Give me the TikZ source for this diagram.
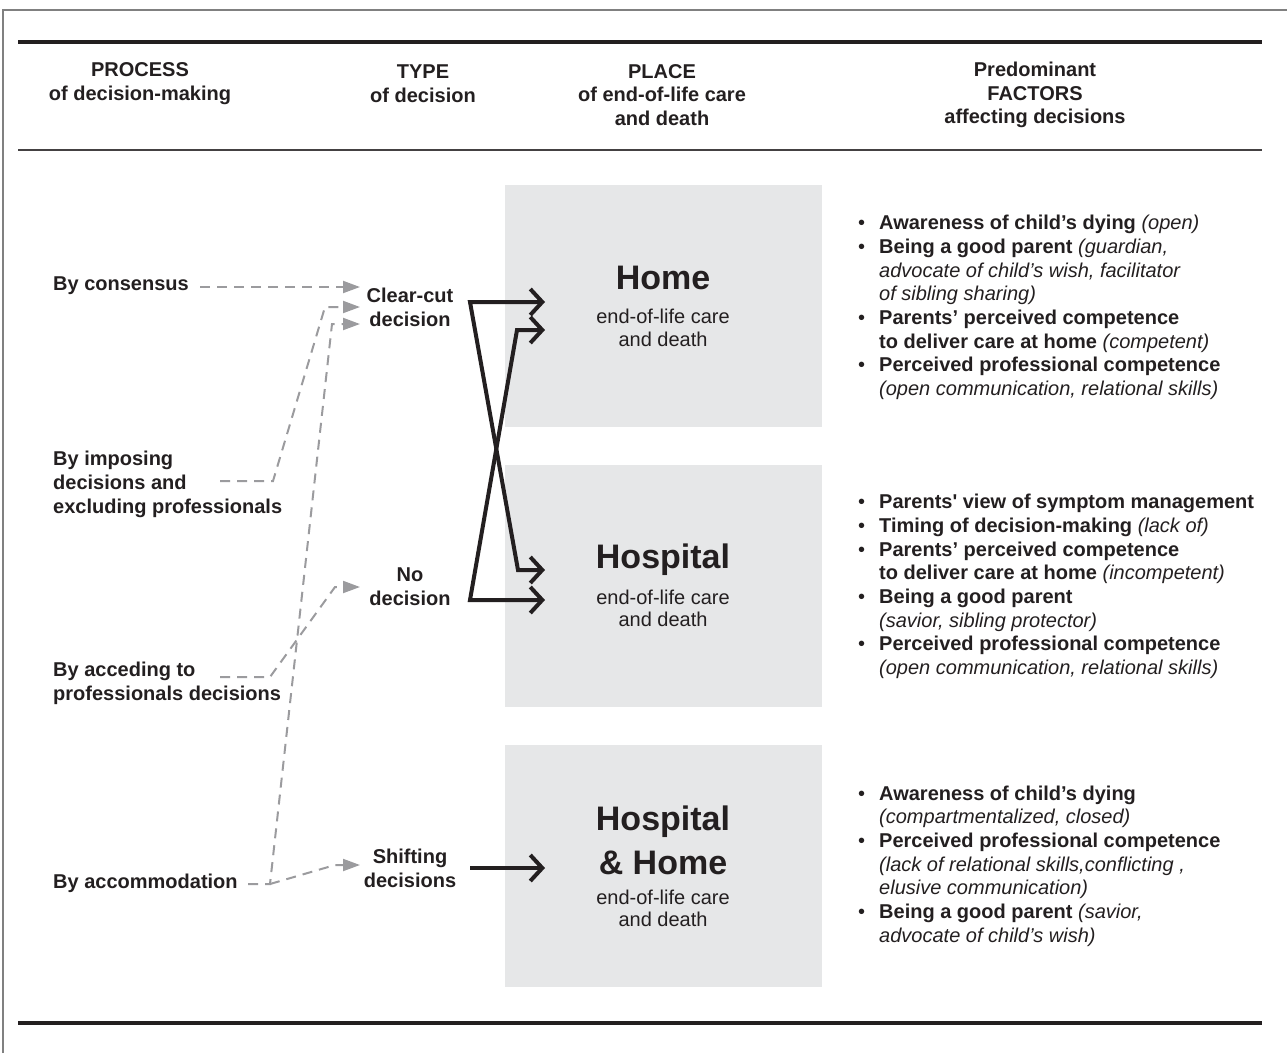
\documentclass[tikz,border=0pt]{standalone}
\usepackage{fontspec}
\setmainfont{Liberation Sans}
\usetikzlibrary{arrows.meta}

\definecolor{ink}{RGB}{35,31,32}
\definecolor{boxgray}{RGB}{230,231,232}
\definecolor{dashgray}{RGB}{155,155,158}

\newcommand{\bodyfont}{\fontsize{20}{23.7}\selectfont}
\newcommand{\itm}{\makebox[21pt][l]{\textbullet}}
\newcommand{\ind}{\hspace*{21pt}}

\tikzset{
  head/.style={font=\bodyfont\bfseries, align=center, text=ink},
  proc/.style={font=\bodyfont\bfseries, align=left, anchor=west, inner sep=0pt, text=ink},
  kind/.style={font=\bodyfont\bfseries, align=center, inner sep=0pt, text=ink},
  place/.style={fill=boxgray, minimum width=317pt, minimum height=242pt, inner sep=0pt},
  placetitle/.style={font=\fontsize{34}{44}\selectfont\bfseries, align=center, text=ink},
  placesub/.style={font=\fontsize{20}{22.5}\selectfont, align=center, text=ink},
  factors/.style={font=\bodyfont, align=left, anchor=west, inner sep=0pt, text=ink},
  dasharrow/.style={dashgray, line width=2pt, dash pattern=on 10pt off 7pt,
    -{Triangle[length=17pt,width=12pt]}},
  solidarrow/.style={ink, line width=4pt, line join=miter,
    {Straight Barb[length=12pt,width=26pt]}-{Straight Barb[length=12pt,width=26pt]}},
  onearrow/.style={ink, line width=4pt, -{Straight Barb[length=12pt,width=26pt]}},
  rule/.style={ink, line width=3.5pt}
}

\begin{document}
\begin{tikzpicture}[x=1pt, y=-1pt]
    \useasboundingbox (0,0) rectangle (1287,1053);

    % frame and rules
    \draw[gray, line width=1.2pt] (3,1053) -- (3,10) -- (1287,10);
    \draw[rule] (18,42) -- (1262,42);
    \draw[ink!85, line width=2pt] (18,150) -- (1262,150);
    \draw[rule] (18,1023) -- (1262,1023);

    % column heads
    \node[head] (hproc) at (140,83.5) {PROCESS\\of decision-making};
    \node[head] (htype) at (423,83.5) {TYPE\\of decision};
    \node[head] (hplace) at (662,95) {PLACE\\of end-of-life care\\and death};
    \node[head] (hfact) at (1035,95) {Predominant\\FACTORS\\affecting decisions};

    % places
    \node[place] (home) at (663.5,306) {};
    \node[place] (hosp) at (663.5,586) {};
    \node[place] (both) at (663.5,866) {};
    \node[placetitle] (homet) at (663,278) {Home};
    \node[placesub] (homes) at (663,328) {end-of-life care\\and death};
    \node[placetitle] (hospt) at (663,560) {Hospital};
    \node[placesub] (hosps) at (663,608.5) {end-of-life care\\and death};
    \node[placetitle] (botht) at (663,840) {Hospital\\\& Home};
    \node[placesub] (boths) at (663,908.5) {end-of-life care\\and death};

    % processes
    \node[proc] (cons) at (53,286) {By consensus};
    \node[proc] (impo) at (53,484.5) {By imposing\\decisions and\\excluding professionals};
    \node[proc] (acce) at (53,683) {By acceding to\\professionals decisions};
    \node[proc] (acco) at (53,883) {By accommodation};

    % types of decision
    \node[kind] (clear) at (410,307) {Clear-cut\\decision};
    \node[kind] (none) at (410,587) {No\\decision};
    \node[kind] (shift) at (410,868) {Shifting\\decisions};

    % dashed connectors
    \coordinate (cons0) at (200,287);
    \coordinate (clear1) at (360,287);
    \coordinate (impo0) at (220,481);
    \coordinate (impo1) at (273,481);
    \coordinate (impo2) at (325,307);
    \coordinate (clear2) at (360,307);
    \coordinate (acco0) at (248,884);
    \coordinate (acco1) at (270,884);
    \coordinate (acco2) at (332,324);
    \coordinate (clear3) at (360,324);
    \coordinate (acco3) at (335,865);
    \coordinate (shift1) at (360,865);
    \coordinate (acce0) at (220,677);
    \coordinate (acce1) at (270,677);
    \coordinate (acce2) at (335,587);
    \coordinate (none1) at (360,587);

    \draw[dasharrow] (cons0) -- (clear1);
    \draw[dasharrow] (impo0) -- (impo1) -- (impo2) -- (clear2);
    \draw[dasharrow] (acco0) -- (acco1) -- (acco2) -- (clear3);
    \draw[dasharrow] (acco1) -- (acco3) -- (shift1);
    \draw[dasharrow] (acce0) -- (acce1) -- (acce2) -- (none1);

    % solid connectors
    \coordinate (homeA) at (545,302);
    \coordinate (homeB) at (545,330);
    \coordinate (hospA) at (545,570);
    \coordinate (hospB) at (545,600);
    \coordinate (clear0) at (470,302);
    \coordinate (none0) at (470,600);
    \coordinate (bendA) at (518,570);
    \coordinate (bendB) at (517,330);
    \coordinate (shift0) at (470,868);
    \coordinate (bothA) at (545,868);

    \draw[solidarrow] (homeA) -- (clear0) -- (bendA) -- (hospA);
    \draw[solidarrow] (hospB) -- (none0) -- (bendB) -- (homeB);
    \draw[onearrow] (shift0) -- (bothA);

    % factors
    \node[factors] (fhome) at (858,307.5) {%
      \itm\textbf{Awareness of child’s dying} \textit{(open)}\\
      \itm\textbf{Being a good parent} \textit{(guardian,}\\
      \ind\textit{advocate of child’s wish, facilitator}\\
      \ind\textit{of sibling sharing)}\\
      \itm\textbf{Parents’ perceived competence}\\
      \ind\textbf{to deliver care at home} \textit{(competent)}\\
      \itm\textbf{Perceived professional competence}\\
      \ind\textit{(open communication, relational skills)}};
    \node[factors] (fhosp) at (858,586.5) {%
      \itm\textbf{Parents\textquotesingle\ view of symptom management}\\
      \itm\textbf{Timing of decision-making} \textit{(lack of)}\\
      \itm\textbf{Parents’ perceived competence}\\
      \ind\textbf{to deliver care at home} \textit{(incompetent)}\\
      \itm\textbf{Being a good parent}\\
      \ind\textit{(savior, sibling protector)}\\
      \itm\textbf{Perceived professional competence}\\
      \ind\textit{(open communication, relational skills)}};
    \node[factors] (fboth) at (858,866) {%
      \itm\textbf{Awareness of child’s dying}\\
      \ind\textit{(compartmentalized, closed)}\\
      \itm\textbf{Perceived professional competence}\\
      \ind\textit{(lack of relational skills,conflicting ,}\\
      \ind\textit{elusive communication)}\\
      \itm\textbf{Being a good parent} \textit{(savior,}\\
      \ind\textit{advocate of child’s wish)}};
\end{tikzpicture}
\end{document}
